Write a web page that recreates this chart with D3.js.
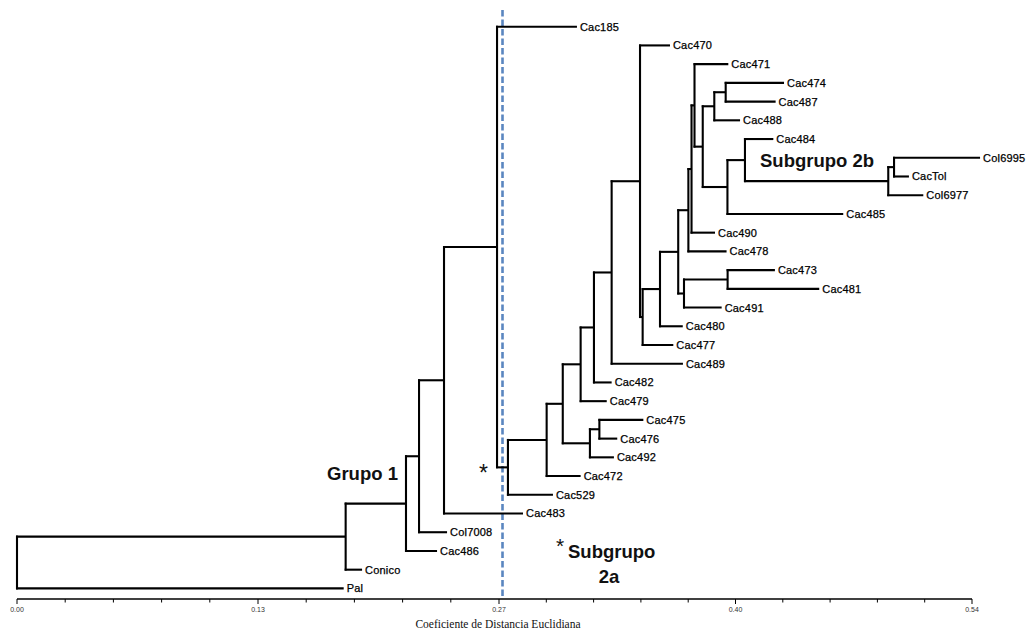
<!DOCTYPE html>
<html>
<head>
<meta charset="utf-8">
<script src="https://cdn.jsdelivr.net/npm/d3@7/dist/d3.min.js"></script>
<style>
  html, body { margin: 0; padding: 0; background: #fff; }
  svg { display: block; }
</style>
</head>
<body>
<svg id="chart" width="1030" height="631"></svg>
<script>
// ---- Data ----
// Leaves, top to bottom, with their parent cluster and cumulative distance
const leaves = ["Cac185","Cac470","Cac471","Cac474","Cac487","Cac488","Cac484","Col6995","CacTol","Col6977",
  "Cac485","Cac490","Cac478","Cac473","Cac481","Cac491","Cac480","Cac477","Cac489","Cac482",
  "Cac479","Cac475","Cac476","Cac492","Cac472","Cac529","Cac483","Col7008","Cac486","Conico","Pal"];
const leafParent = ["E","P","Z","Z5","Z5","Z3","Z6","Z8","Z8","Z7",
  "Z4","Y","T","V","V","U","R2","Q","O","M",
  "J","L","L","K","G","F","D","C","B","A","R"];
const leafDist = [0.3145,0.3676,0.4009,0.4327,0.4279,0.4076,0.4266,0.5446,0.5040,0.5122,
  0.4665,0.3933,0.3999,0.4275,0.4528,0.3971,0.3749,0.3695,0.3750,0.3343,
  0.3315,0.3524,0.3375,0.3356,0.3166,0.3008,0.2837,0.2409,0.2353,0.1933,0.1830];

// Internal clusters, their parent and cumulative distance (joining height)
const clusters = ["R","A","B","C","D","E","F","G","H","J","K","L","M","O","P","Q","R2","S","T","U","V",
  "Y","Z","Z2","Z3","Z4","Z5","Z6","Z7","Z8"];
const clusterParent = ["","R","A","B","C","D","E","F","G","H","H","K","J","M","O","P","Q","R2","S","S","U",
  "T","Y","Z","Z2","Z2","Z3","Z4","Z6","Z7"];
const clusterDist = [0.0000,0.1841,0.2179,0.2252,0.2392,0.2689,0.2751,0.2972,0.3064,0.3166,0.3219,0.3273,0.3242,0.3343,0.3505,0.3520,0.3619,0.3723,0.3781,0.3756,0.4005,
  0.3799,0.3816,0.3863,0.3929,0.4004,0.3994,0.4104,0.4922,0.4955];

const axisMax = 0.54;
const tickStep = 0.027;
const labeledTicks = [0, 5, 10, 15, 20];
const tickLabels = ["0.00", "0.13", "0.27", "0.40", "0.54"];
const cutValue = 0.272;
const axisTitle = "Coeficiente de Distancia Euclidiana";

// ---- Build tree ----
const nodes = new Map();
clusters.forEach((c, i) => nodes.set(c, {name: c, parent: clusterParent[i], dist: clusterDist[i], children: [], leaf: false}));
leaves.forEach((l, i) => nodes.set(l, {name: l, parent: leafParent[i], dist: leafDist[i], children: [], leaf: true}));
nodes.forEach(n => { if (n.parent) nodes.get(n.parent).children.push(n); });
const root = nodes.get("R");

// ---- Scales ----
const x = d3.scaleLinear().domain([0, axisMax / 2, axisMax]).range([17, 499, 972]);
const y = d3.scalePoint().domain(leaves).range([26.7, 588.4]);

function layout(n) {
  n.px = x(n.dist);
  if (n.leaf) { n.py = y(n.name); return; }
  n.children.forEach(layout);
  const ys = n.children.map(c => c.py);
  n.ymin = d3.min(ys); n.ymax = d3.max(ys);
  n.py = (n.ymin + n.ymax) / 2;
}
layout(root);

const svg = d3.select("#chart");
const all = Array.from(nodes.values());

// Dashed cut line
svg.append("line")
  .attr("x1", x(cutValue)).attr("x2", x(cutValue))
  .attr("y1", 10).attr("y2", 599)
  .attr("stroke", "#5a86c0").attr("stroke-width", 2.6)
  .attr("stroke-dasharray", "6.5,3");

const g = svg.append("g").attr("stroke", "#000").attr("stroke-width", 2.1).attr("fill", "none");

// horizontal branches
g.selectAll("line.h").data(all.filter(n => n.parent)).join("line")
  .attr("class", "h")
  .attr("x1", n => nodes.get(n.parent).px - 1).attr("x2", n => n.px)
  .attr("y1", n => n.py).attr("y2", n => n.py);

// vertical connectors
g.selectAll("line.v").data(all.filter(n => !n.leaf)).join("line")
  .attr("class", "v")
  .attr("x1", n => n.px).attr("x2", n => n.px)
  .attr("y1", n => n.ymin - 1).attr("y2", n => n.ymax + 1);

// leaf labels
svg.append("g").selectAll("text").data(all.filter(n => n.leaf)).join("text")
  .attr("x", n => n.px + 3).attr("y", n => n.py)
  .attr("dy", "0.36em")
  .attr("font-family", "Liberation Sans, Arial, sans-serif")
  .attr("font-size", 11).attr("fill", "#000")
  .attr("stroke", "#000").attr("stroke-width", 0.25)
  .attr("letter-spacing", 0.2)
  .text(n => n.name);

// ---- Axis ----
const tickVals = d3.range(21).map(i => i * tickStep);
const axisG = svg.append("g").attr("transform", "translate(0,599)");
axisG.append("line").attr("x1", x(0)).attr("x2", x(axisMax)).attr("y1", 0).attr("y2", 0)
  .attr("stroke", "#000").attr("stroke-width", 1.4);
axisG.selectAll("line.t").data(tickVals).join("line")
  .attr("class", "t")
  .attr("x1", d => x(d)).attr("x2", d => x(d))
  .attr("y1", 0).attr("y2", (d, i) => labeledTicks.includes(i) ? 5 : 3.5)
  .attr("stroke", "#000").attr("stroke-width", 1);
axisG.selectAll("text").data(labeledTicks).join("text")
  .attr("x", i => x(i * tickStep)).attr("y", 13)
  .attr("text-anchor", "middle")
  .attr("font-family", "Liberation Sans, Arial, sans-serif")
  .attr("font-size", 7).attr("fill", "#333")
  .text((d, k) => tickLabels[k]);

svg.append("text")
  .attr("x", 498).attr("y", 628)
  .attr("text-anchor", "middle")
  .attr("font-family", "Liberation Serif, Times New Roman, serif")
  .attr("font-size", 11.5).attr("fill", "#111")
  .text(axisTitle);

// ---- Annotations ----
const ann = svg.append("g")
  .attr("font-family", "Liberation Sans, Arial, sans-serif")
  .attr("font-weight", "bold").attr("fill", "#111");
ann.append("text").attr("x", 327).attr("y", 480).attr("font-size", 18.5).text("Grupo 1");
ann.append("text").attr("x", 760).attr("y", 167).attr("font-size", 18.5).text("Subgrupo 2b");
ann.append("text").attr("x", 556).attr("y", 553).attr("font-size", 21).attr("font-weight", "normal").text("*");
ann.append("text").attr("x", 568).attr("y", 558).attr("font-size", 18.5).text("Subgrupo");
ann.append("text").attr("x", 609).attr("y", 583).attr("font-size", 18.5).attr("text-anchor", "middle").text("2a");
ann.append("text").attr("x", 479).attr("y", 481).attr("font-size", 23).attr("font-weight", "normal").text("*");
</script>
</body>
</html>
